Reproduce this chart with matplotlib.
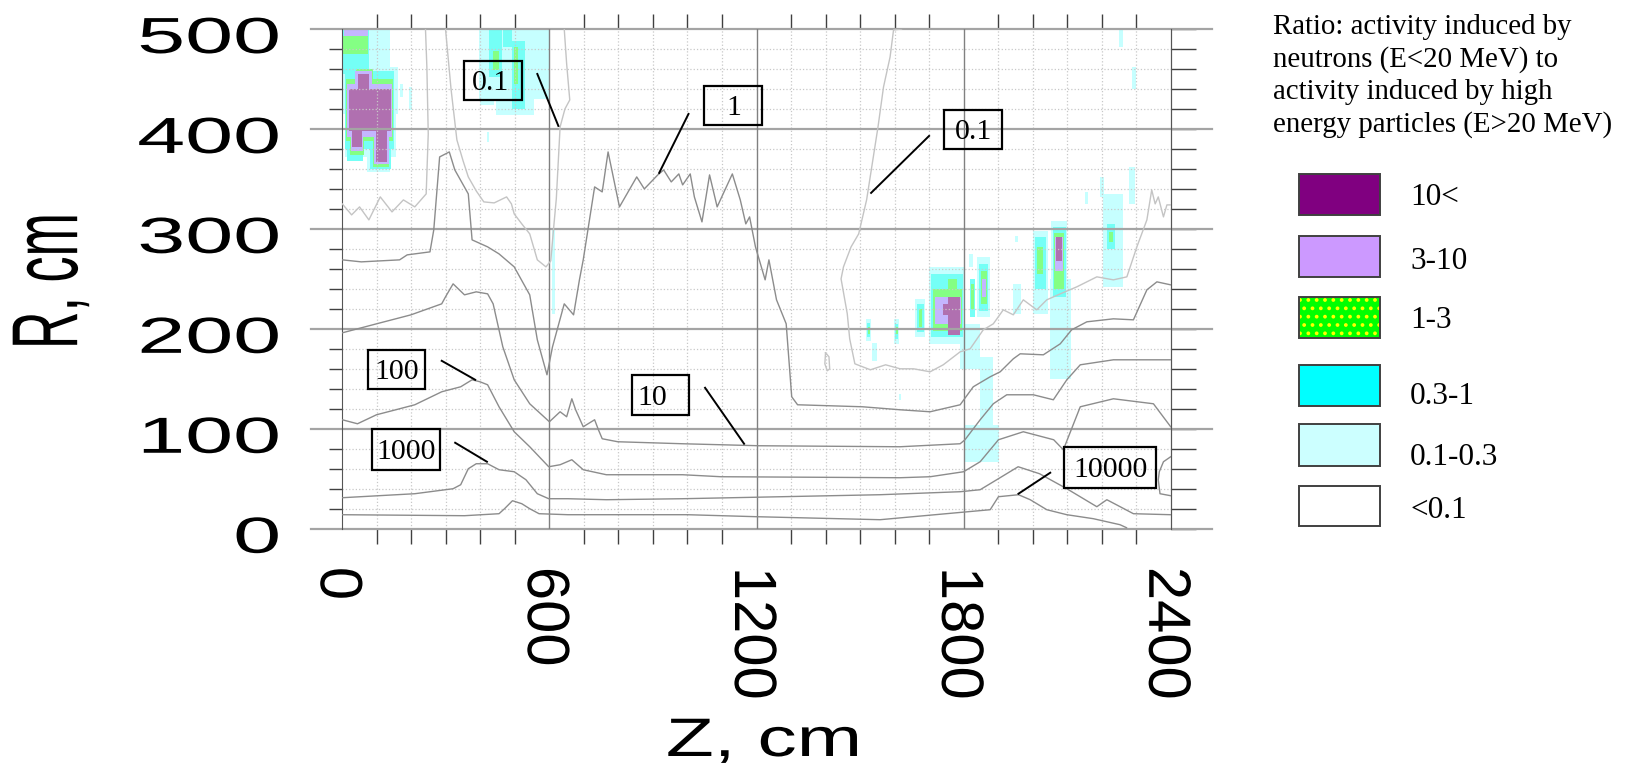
import numpy as np
import matplotlib
matplotlib.use("Agg")
import matplotlib.pyplot as plt
from matplotlib import patheffects
from matplotlib.patches import Rectangle
from matplotlib.transforms import Affine2D

plt.rcParams["font.family"] = "Liberation Sans"
plt.rcParams["hatch.linewidth"] = 1.5

# contour lines (Z, R in cm)
z_01a = [0, 27, 50, 77, 110, 144, 177, 210, 243, 249, 245, 241]
r_01a = [325, 314, 322, 309, 332, 317, 329, 322, 335, 395, 462, 500]
z_01b = [299, 315, 332, 350, 365, 388, 410, 440, 476, 490, 498, 520, 543, 565, 590, 604, 612, 620, 631, 645, 659, 650, 643]
r_01b = [500, 440, 389, 368, 352, 338, 327, 326, 332, 325, 315, 305, 295, 269, 262, 268, 300, 330, 402, 420, 429, 465, 500]
z_01d = [1620, 1597, 1587, 1568, 1552, 1519, 1496, 1474, 1452, 1445, 1463, 1470, 1485, 1530, 1574, 1616, 1655, 1703,
         1741, 1790, 1819, 1857, 1886, 1915, 1944, 1973, 2012, 2041, 2080, 2128, 2186, 2234, 2273, 2302, 2331, 2345,
         2355, 2364, 2379, 2389, 2400]
r_01d = [500, 499, 472, 442, 402, 329, 295, 282, 262, 250, 215, 190, 165, 159, 164, 160, 160, 157,
         164, 177, 180, 199, 205, 219, 214, 229, 219, 229, 235, 242, 252, 249, 252, 282, 309, 339,
         325, 332, 312, 324, 324]
z_1 = [0, 55, 166, 188, 254, 265, 282, 310, 326, 365, 376, 421, 454, 498, 543, 565, 593, 609, 643, 670, 687, 698,
       731, 753, 770, 803, 853, 875, 914, 931, 953, 975, 986, 1008, 1020, 1042, 1064, 1086, 1130, 1153, 1169, 1180,
       1197, 1225, 1236, 1258, 1286, 1302, 1319, 1507, 1616, 1703, 1790, 1828, 1877, 1906, 1944, 1964, 2031, 2080,
       2113, 2157, 2234, 2292, 2331, 2360, 2400]
r_1 = [269, 267, 269, 274, 277, 299, 372, 377, 359, 335, 289, 282, 275, 262, 234, 189, 154, 182, 225, 214, 249, 269,
       342, 337, 377, 322, 352, 340, 354, 359, 347, 355, 344, 355, 332, 307, 354, 322, 355, 329, 305, 312,
       282, 249, 269, 229, 205, 132, 124, 122, 119, 117, 124, 142, 152, 157, 170, 175, 174, 185,
       199, 207, 210, 209, 239, 247, 244]
z_10 = [0, 33, 99, 199, 288, 299, 321, 354, 388, 421, 437, 465, 498, 543, 600, 631, 650, 665, 676, 698, 731, 742,
        753, 798, 986, 1208, 1616, 1790, 1804, 1848, 1886, 1925, 2002, 2060, 2099, 2138, 2234, 2292, 2400]
r_10 = [196, 199, 205, 214, 225, 232, 245, 234, 237, 235, 225, 182, 149, 125, 107, 117, 112, 130, 119, 102, 109, 99,
        90, 87, 85, 83, 82, 85, 89, 109, 125, 134, 134, 129, 149, 164, 169, 169, 169]
z_100 = [0, 44, 99, 155, 210, 288, 343, 376, 399, 421, 454, 498, 543, 598, 631, 665, 698, 765, 986, 1097, 1616,
         1703, 1800, 1848, 1901, 1973, 2061, 2089, 2138, 2234, 2350, 2400]
r_100 = [109, 105, 114, 119, 124, 137, 142, 149, 147, 144, 122, 97, 82, 62, 64, 69, 59, 54, 54, 52, 51,
         52, 57, 67, 89, 97, 89, 79, 122, 130, 125, 102]
z_1000 = [0, 210, 321, 343, 365, 388, 421, 454, 498, 532, 565, 598, 654, 765, 986, 1558, 1790, 1848, 1896, 1958,
          2020, 2099, 2186, 2215, 2292, 2400]
r_1000 = [31, 35, 40, 44, 60, 65, 65, 59, 57, 49, 35, 30, 30, 29, 30, 34, 37, 39, 49, 62,
          55, 40, 22, 29, 15, 14]
z_10000 = [0, 354, 454, 470, 493, 520, 543, 570, 654, 1000, 1200, 1558, 1877, 1901, 1959, 1993, 2041, 2099, 2176,
           2253, 2272]
r_10000 = [14, 13, 15, 20, 28, 25, 20, 15, 14, 14, 12, 9, 19, 32, 34, 29, 19, 14, 10, 4, 1]
z_corner = [2400, 2379, 2367, 2364, 2369, 2400]
r_corner = [72, 67, 57, 49, 35, 33]
z_loop = [1400, 1410, 1412, 1405, 1398, 1400]
r_loop = [176, 172, 160, 158, 165, 176]

# filled ratio regions as (z0, z1, r0, r1) cells
pale_cyan = [(0, 138, 462, 500), (2, 160, 415, 462), (8, 155, 372, 415), (72, 138, 357, 372), (168, 177, 432, 445),
             (193, 201, 419, 442), (395, 598, 430, 500), (445, 555, 414, 430), (398, 440, 424, 430),
             (418, 424, 387, 397), (607, 617, 215, 300), (1700, 1800, 185, 262), (1790, 1848, 160, 205),
             (1815, 1828, 262, 275), (1840, 1876, 212, 272), (1660, 1688, 192, 230), (1598, 1614, 185, 210),
             (1942, 1966, 215, 245), (2000, 2044, 215, 298), (2050, 2112, 150, 250), (2052, 2100, 250, 308),
             (2205, 2262, 242, 335), (2278, 2297, 325, 362), (2288, 2300, 440, 462), (2250, 2262, 482, 500),
             (2195, 2206, 332, 352), (2152, 2159, 325, 337), (1800, 1902, 67, 104), (1848, 1886, 102, 172),
             (1518, 1532, 188, 210), (1536, 1548, 168, 186), (1950, 1958, 287, 293), (1612, 1620, 129, 135)]
cyan = [(0, 78, 455, 500), (8, 150, 380, 458), (15, 60, 368, 382), (80, 140, 360, 380), (425, 462, 452, 500),
        (465, 493, 482, 500), (493, 528, 420, 488), (1705, 1798, 192, 255), (1750, 1785, 229, 255),
        (1818, 1834, 212, 250), (1845, 1872, 218, 265), (1665, 1684, 197, 225), (1602, 1611, 190, 205),
        (2006, 2038, 240, 292), (2058, 2096, 232, 302), (2215, 2240, 280, 305), (1520, 1530, 192, 206)]
green = [(3, 75, 475, 493), (12, 146, 388, 450), (22, 62, 374, 390), (88, 136, 362, 388), (40, 88, 440, 460),
         (437, 454, 459, 478), (498, 510, 445, 482), (1712, 1795, 198, 240), (1755, 1780, 232, 250),
         (1822, 1830, 220, 245), (1850, 1868, 225, 258), (1670, 1680, 202, 220), (1604, 1609, 195, 202),
         (2012, 2030, 255, 282), (2062, 2090, 240, 296), (2220, 2232, 287, 297), (1522, 1528, 195, 202)]
lavender = [(5, 75, 493, 500), (15, 145, 392, 445), (24, 60, 378, 392), (92, 136, 365, 392), (38, 85, 440, 458),
            (1718, 1792, 205, 232), (1853, 1865, 232, 250), (2065, 2087, 258, 292)]
purple = [(45, 78, 440, 455), (18, 140, 398, 440), (28, 56, 382, 398), (97, 130, 367, 398),
          (1755, 1790, 194, 232), (1740, 1760, 214, 225), (2068, 2084, 268, 292)]

# boxed contour labels and their leader lines
lab_text = ["0.1", "1", "0.1", "100", "1000", "10", "10000"]
box_z0 = [352, 1049, 1743, 75, 86, 840, 2092]
box_z1 = [520, 1217, 1912, 241, 283, 1004, 2358]
box_r0 = [429, 404, 380, 140, 59, 114, 41]
box_r1 = [468, 443, 419, 179, 100, 154, 82]
text_shift = [-8, 0, 0, 0, 0, -24, 0]
lead_z0 = [565, 1003, 1700, 288, 327, 1051, 2051]
lead_r0 = [455, 415, 393, 168, 86, 141, 56]
lead_z1 = [626, 918, 1532, 385, 419, 1164, 1959]
lead_r1 = [403, 356, 336, 149, 67, 85, 35]

z_major = [0, 600, 1200, 1800, 2400]
r_major = [0, 100, 200, 300, 400, 500]

legend_title = ["Ratio: activity induced by", "neutrons (E<20 MeV) to",
                "activity induced by high", "energy particles (E>20 MeV)"]
legend_labels = ["10<", "3-10", "1-3", "0.3-1", "0.1-0.3", "<0.1"]
legend_colors = ["#800080", "#cc99ff", "#00ff00", "#00ffff", "#ccffff", "#ffffff"]


class Stretch(patheffects.AbstractPathEffect):
    """draw text glyphs widened around an anchor, like the stretched labels of the original"""

    def __init__(self, sx=1.0, sy=1.0, fx=0.5, fy=0.5, dx=0, dy=0):
        super().__init__()
        self.sx, self.sy, self.fx, self.fy, self.dx, self.dy = sx, sy, fx, fy, dx, dy

    def draw_path(self, renderer, gc, tpath, affine, rgbFace=None):
        ext = tpath.get_extents()
        cx = ext.x0 + self.fx * ext.width
        cy = ext.y0 + self.fy * ext.height
        warp = Affine2D().translate(-cx, -cy).scale(self.sx, self.sy).translate(cx, cy)
        renderer.draw_path(gc, tpath, warp + affine + Affine2D().translate(self.dx, self.dy), rgbFace)


fig = plt.figure(figsize=(16.32, 7.67), dpi=100)
ax = fig.add_axes([342.3 / 1632, 1 - 528.7 / 767, 828.4 / 1632, 499.7 / 767])
ax.set_xlim(0, 2400)
ax.set_ylim(0, 500)

for rects, col in [(pale_cyan, "#c6ffff"), (cyan, "#74fff6"), (green, "#84ff84"),
                   (lavender, "#c4b6ff"), (purple, "#b070b0")]:
    z0, z1, r0, r1 = np.array(rects).T
    ax.bar(z0, r1 - r0, width=z1 - z0, bottom=r0, align="edge", color=col, linewidth=0, zorder=1)

light = "#c4c4c4"
mid = "#8c8c8c"
for z, r, col in [(z_01a, r_01a, light), (z_01b, r_01b, light), (z_01d, r_01d, light), (z_loop, r_loop, light),
                  (z_1, r_1, mid), (z_10, r_10, mid), (z_100, r_100, mid), (z_1000, r_1000, mid),
                  (z_10000, r_10000, mid), (z_corner, r_corner, mid)]:
    ax.plot(z, r, color=col, lw=1.0, zorder=3)

for t, bz0, bz1, br0, br1, dz, lz0, lr0, lz1, lr1 in zip(lab_text, box_z0, box_z1, box_r0, box_r1, text_shift,
                                                          lead_z0, lead_r0, lead_z1, lead_r1):
    ax.add_patch(Rectangle((bz0, br0), bz1 - bz0, br1 - br0, fill=False, ec="black", lw=1.6, zorder=5))
    ax.text((bz0 + bz1) / 2 + dz, (br0 + br1) / 2 - 10, t, ha="center", va="baseline",
            family="Liberation Serif", fontsize=21.5, zorder=6)
    ax.plot([lz0, lz1], [lr0, lr1], color="black", lw=1.4, zorder=5)

# grid, frame and ticks
for r in r_major:
    ax.plot([-0.0375, 1.0495], [r, r], transform=ax.get_yaxis_transform(), color="#a4a4a4",
            lw=1.6, clip_on=False, zorder=2)
for z in z_major[1:-1]:
    ax.axvline(z, color="#808080", lw=1.0, zorder=2)
ax.grid(which="minor", linestyle=":", color="#c8c8c8", lw=0.9)
for s in ["top", "bottom"]:
    ax.spines[s].set_visible(False)
for s in ["left", "right"]:
    ax.spines[s].set_color("#555555")

ax.set_xticks(z_major)
ax.set_xticklabels([str(v) for v in z_major], rotation=-90, fontsize=43)
ax.set_xticks(np.arange(0, 2401, 100), minor=True)
ax.set_yticks(r_major)
ax.set_yticklabels([str(v) for v in r_major], fontsize=36.5)
ax.set_yticks(np.arange(0, 501, 20), minor=True)
ax.tick_params(axis="x", which="major", length=0, pad=27.5)
ax.tick_params(axis="x", which="minor", length=10.8, top=True, bottom=True, color="#404040", width=1)
ax.tick_params(axis="y", which="major", length=0, pad=45)
ax.tick_params(axis="y", which="minor", length=9.4, color="#404040", width=1)
for lab in ax.get_yticklabels():
    lab.set_path_effects([Stretch(sx=1.7, fx=1.0, dy=-5)])
for lab in ax.get_xticklabels():
    lab.set_path_effects([Stretch(dx=-6)])

sec = ax.secondary_yaxis("right")
sec.set_yticks([])
sec.set_yticks(np.arange(0, 501, 20), minor=True)
sec.tick_params(which="minor", length=18, color="#404040", width=1)
sec.spines["right"].set_color("#555555")

# overlay in pixel units for axis titles and the legend panel
lay = fig.add_axes([0, 0, 1, 1], facecolor="none")
lay.set_xlim(0, 1632)
lay.set_ylim(767, 0)
lay.axis("off")

lay.text(763.5, 756, "Z, cm", ha="center", va="baseline", fontsize=39,
         path_effects=[Stretch(sx=1.45)])
lay.text(52, 281, "R, cm", ha="center", va="center", rotation=90, fontsize=37.5,
         path_effects=[Stretch(sy=1.8)])

for i, line in enumerate(legend_title):
    lay.text(1272.7, 33.8 + 32.7 * i, line, ha="left", va="baseline", family="Liberation Serif", fontsize=20.8)

box_top = [174.1, 235.6, 296.8, 365.0, 423.6, 485.8]
box_bot = [215.4, 276.5, 338.0, 405.7, 465.5, 526.4]
lab_base = [205.2, 268.8, 328.0, 404.0, 464.8, 518.0]
for lab, col, y0, y1, yb in zip(legend_labels, legend_colors, box_top, box_bot, lab_base):
    if lab == "1-3":
        lay.add_patch(Rectangle((1298.7, y0), 81.2, y1 - y0, facecolor=col, edgecolor="#ffff00",
                                hatch="..", lw=0))
        lay.add_patch(Rectangle((1298.7, y0), 81.2, y1 - y0, fill=False, edgecolor="#404040", lw=1.4))
    else:
        lay.add_patch(Rectangle((1298.7, y0), 81.2, y1 - y0, facecolor=col, edgecolor="#404040", lw=1.4))
    lay.text(1410, yb, lab, ha="left", va="baseline", family="Liberation Serif", fontsize=22.5)

plt.savefig("out.png", dpi=100)
